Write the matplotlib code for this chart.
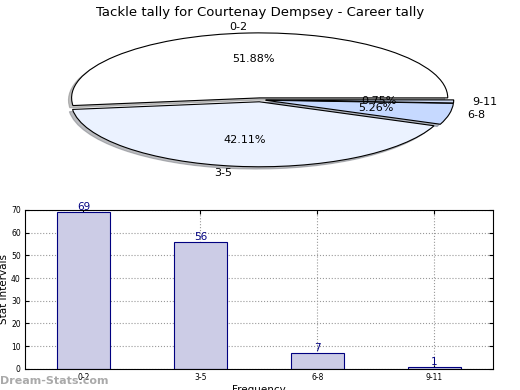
import matplotlib
matplotlib.use("Agg")
import matplotlib.pyplot as plt

# tackle counts per interval
categories = ["0-2", "3-5", "6-8", "9-11"]
counts = [69, 56, 7, 1]
pie_colors = ["#ffffff", "#ebf2ff", "#c6d9ff", "#ccd9f5"]

fig = plt.figure(figsize=(5.2, 3.9), dpi=100)

# pie on top, stretched (no equal aspect)
ax1 = fig.add_axes([0.066, 0.544, 0.868, 0.40])
ax1.pie(counts, labels=categories, colors=pie_colors, autopct="%.2f%%",
        explode=[0.03] * len(counts),
        shadow=dict(ox=-0.012, oy=-0.025, shade=0.5), startangle=0,
        wedgeprops=dict(edgecolor="black", linewidth=0.8),
        textprops=dict(fontsize=8))
ax1.set_aspect("auto")
ax1.set_xlim(-1.2, 1.2)
ax1.set_ylim(-1.2, 1.2)
ax1.set_title("Tackle tally for Courtenay Dempsey - Career tally",
              fontsize=9.5, pad=4)

# bar chart below
ax2 = fig.add_axes([0.048, 0.054, 0.9, 0.408])
x = list(range(len(categories)))
bars = ax2.bar(x, counts, width=0.45, color="#ccccE6", edgecolor="#000080",
               linewidth=0.8, zorder=2)
for xi, v in zip(x, counts):
    ax2.text(xi, v, str(v), ha="center", va="bottom", color="#000080",
             fontsize=7.5)
ax2.set_xlim(-0.5, 3.5)
ax2.set_ylim(0, 70)
ax2.set_xticks(x)
ax2.set_xticklabels(categories)
ax2.set_yticks(range(0, 71, 10))
ax2.tick_params(labelsize=5.5, direction="in", top=True, right=True,
                length=3, pad=3)
ax2.grid(True, linestyle=":", color="#999999", linewidth=0.8, zorder=0)
ax2.set_axisbelow(True)
ax2.set_ylabel("Stat Intervals", fontsize=7.5)
ax2.yaxis.set_label_coords(-0.034, 0.5)

fig.text(0.497, -0.012, "Frequency", ha="center", va="bottom", fontsize=7.5)
fig.text(0.0, 0.01, "Dream-Stats.com", ha="left", va="bottom",
         fontsize=8, color="#aaaaaa", fontweight="bold")

fig.savefig("out.png", dpi=100)
